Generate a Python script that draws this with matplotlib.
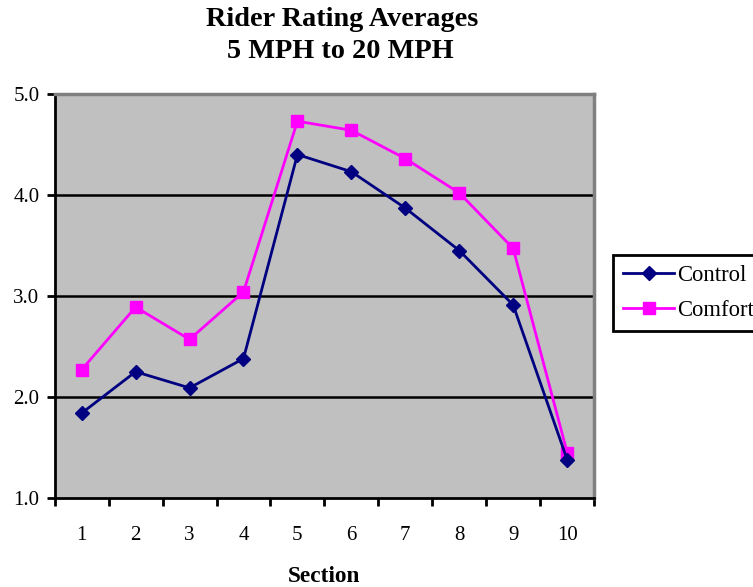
import matplotlib
matplotlib.use("Agg")
import matplotlib.pyplot as plt
from matplotlib.ticker import FixedLocator, NullFormatter

sections = ["1", "2", "3", "4", "5", "6", "7", "8", "9", "10"]
control = [1.84, 2.25, 2.09, 2.38, 4.40, 4.23, 3.87, 3.45, 2.91, 1.38]
comfort = [2.27, 2.89, 2.57, 3.04, 4.73, 4.64, 4.36, 4.02, 3.47, 1.45]
yticks = [1.0, 2.0, 3.0, 4.0, 5.0]

plt.rcParams['font.family'] = ['Liberation Serif', 'DejaVu Serif']

fig = plt.figure(figsize=(7.53, 5.87), dpi=100)
ax = fig.add_axes([0.0726, 0.1516, 0.7164, 0.6884])
ax.set_facecolor('#C0C0C0')

x = list(range(len(sections)))
ax.plot(x, control, color='#000080', lw=2, marker='D', ms=7, label='Control', zorder=4)
ax.plot(x, comfort, color='#FF00FF', lw=2, marker='s', ms=8, label='Comfort', zorder=3)

ax.set_xlim(-0.5, len(sections) - 0.5)
ax.set_ylim(1.0, 5.0)
ax.set_yticks(yticks)
ax.set_yticklabels([f"{v:.1f}" for v in yticks], fontsize=15)
ax.set_xticks(x)
ax.set_xticklabels(sections, fontsize=15)
ax.tick_params(axis='x', which='major', length=0, pad=20)
ax.xaxis.set_minor_locator(FixedLocator([i - 0.5 for i in range(len(sections) + 1)]))
ax.xaxis.set_minor_formatter(NullFormatter())
ax.tick_params(axis='x', which='minor', length=6, width=2, direction='out', color='black')
ax.tick_params(axis='y', length=6, width=2, direction='out', pad=5)

for v in yticks[1:-1]:
    ax.axhline(v, color='black', lw=1.8, zorder=1)

ax.spines['left'].set_linewidth(2)
ax.spines['bottom'].set_linewidth(2)
ax.spines['top'].set_color('#808080')
ax.spines['right'].set_color('#808080')
ax.spines['top'].set_linewidth(2.5)
ax.spines['right'].set_linewidth(2.5)

ax.set_xlabel('Section', fontsize=16.8, fontweight='bold', labelpad=15)

fig.text(0.454, 0.967, 'Rider Rating Averages', ha='center', va='center', fontsize=20.3, fontweight='bold')
fig.text(0.452, 0.913, '5 MPH to 20 MPH', ha='center', va='center', fontsize=20.3, fontweight='bold')

leg = fig.legend(loc='upper left', bbox_to_anchor=(613/753, 1 - 255/587), fontsize=16.3,
                 frameon=True, fancybox=False, edgecolor='black', framealpha=1,
                 borderpad=0.45, handlelength=2.25, handletextpad=0.15, labelspacing=0.6,
                 borderaxespad=0)
leg.get_frame().set_linewidth(2)

fig.savefig('out.png', dpi=100)
